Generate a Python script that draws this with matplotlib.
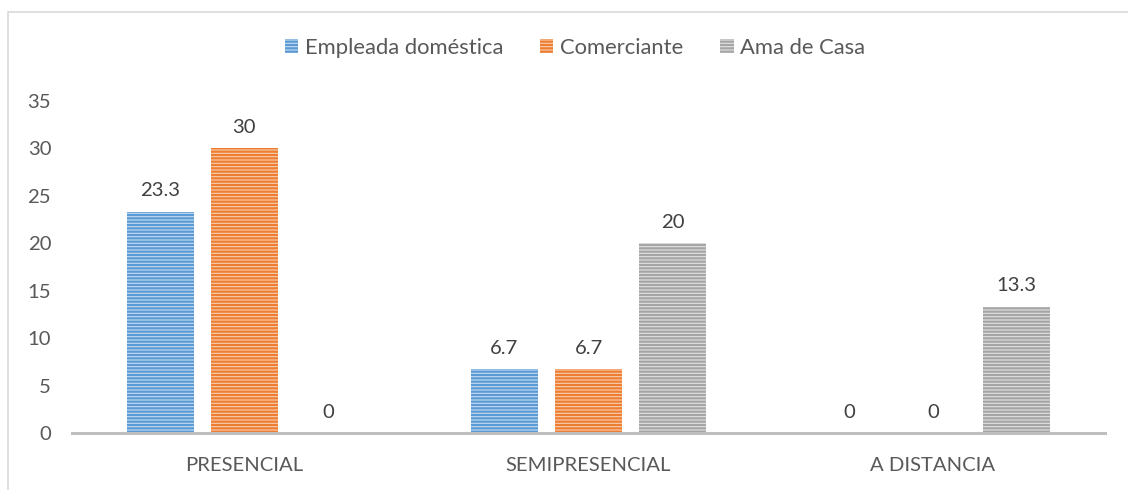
import matplotlib
matplotlib.use("Agg")
import matplotlib.pyplot as plt
import numpy as np
from matplotlib.patches import Rectangle, Patch

categories = ["PRESENCIAL", "SEMIPRESENCIAL", "A DISTANCIA"]
series_names = ["Empleada doméstica", "Comerciante", "Ama de Casa"]
empleada = [23.3, 6.7, 0]
comerciante = [30, 6.7, 0]
ama = [0, 20, 13.3]
values = [empleada, comerciante, ama]
yticks = [0, 5, 10, 15, 20, 25, 30, 35]

main_colors = ["#5b9bd5", "#ed7d31", "#a5a5a5"]
light_colors = ["#c5dbf0", "#f9cfb2", "#e2e2e2"]

plt.rcParams['font.family'] = ['Lato', 'DejaVu Sans']
plt.rcParams['hatch.linewidth'] = 1.6

FS = 14.6
LFS = 15.8

fig = plt.figure(figsize=(11.28, 4.9), dpi=100)
ax = fig.add_axes([72/1128, 1-433/490, (1105-72)/1128, (433-101)/490])

# chart frame
fig.patches.append(Rectangle((8/1128, -0.05), 1.2, 1-12/490+0.05, transform=fig.transFigure,
                             fill=False, edgecolor="#d9d9d9", linewidth=1.2, zorder=0))

x = np.arange(len(categories))
width = 0.195
offsets = [-0.244, 0, 0.244]
for i, (vals, name) in enumerate(zip(values, series_names)):
    ax.bar(x + offsets[i], vals, width, color=light_colors[i], edgecolor=main_colors[i],
           linewidth=0, hatch="-----", label=name, zorder=2)
    for xi, v in zip(x + offsets[i], vals):
        ax.annotate(f"{v:g}", (xi, v), xytext=(0, 9), textcoords="offset points",
                    ha="center", va="bottom", fontsize=FS, color="#404040")

ax.set_xlim(-0.5, 2.5)
ax.set_ylim(0, 35)
ax.set_yticks(yticks)
ax.set_xticks(x)
ax.set_xticklabels(categories)
for s in ["top", "right", "left"]:
    ax.spines[s].set_visible(False)
ax.spines["bottom"].set_color("#bfbfbf")
ax.spines["bottom"].set_linewidth(2.2)
ax.spines["bottom"].set_zorder(3)
ax.tick_params(axis="both", length=0, labelsize=FS, labelcolor="#595959")
ax.tick_params(axis="y", pad=15)
ax.tick_params(axis="x", pad=17)
for lbl in ax.get_yticklabels():
    lbl.set_horizontalalignment("right")

handles = [Patch(facecolor=light_colors[i], edgecolor=main_colors[i], hatch="-----", linewidth=0)
           for i in range(3)]
fig.legend(handles, series_names, loc="center", bbox_to_anchor=(575/1128, 1-48/490), ncol=3,
           frameon=False, fontsize=LFS, labelcolor="#595959", handlelength=0.6, handleheight=0.6,
           handletextpad=0.3, columnspacing=1.7)

fig.savefig("out.png", dpi=100, facecolor="white")
